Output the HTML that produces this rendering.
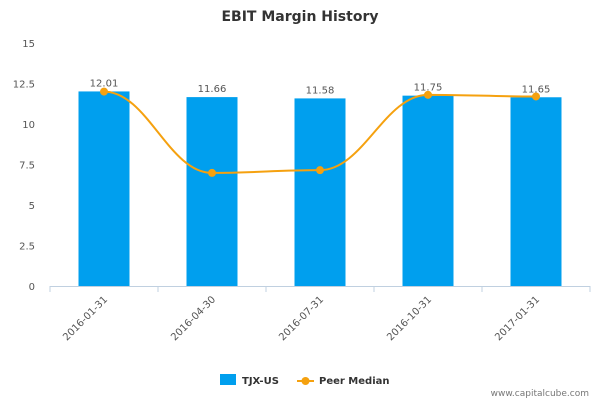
<!DOCTYPE html>
<html><head><meta charset="utf-8"><style>
body{margin:0;background:#fff;}
svg{display:block;font-family:"DejaVu Sans","Liberation Sans",sans-serif;}
</style></head><body>
<svg id="c" width="600" height="400" xmlns="http://www.w3.org/2000/svg">
<text x="300" y="21" text-anchor="middle" font-size="14" font-weight="bold" fill="#333">EBIT Margin History</text>
<g id="yaxis"></g>
<g id="xaxis"></g>
<g id="bars"></g>
<g id="line"></g>
<g>
<g><rect x="220" y="374" width="16" height="11" fill="#009fee"/><text x="242" y="384" font-size="10" font-weight="bold" fill="#333">TJX-US</text></g>
<g><line x1="297" y1="381" x2="314" y2="381" stroke="#f5a10f" stroke-width="2"/><circle cx="305.5" cy="381" r="4" fill="#f5a10f"/><text x="319" y="384" font-size="10" font-weight="bold" fill="#333">Peer Median</text></g>
</g>
<text x="589" y="396" text-anchor="end" font-size="9" fill="#777">www.capitalcube.com</text>
</svg>
<script>
const categories=["2016-01-31","2016-04-30","2016-07-31","2016-10-31","2017-01-31"];
const tjxValues=[12.01,11.66,11.58,11.75,11.65];
const peerValues=[12.0,6.98,7.15,11.8,11.7];
const yTicks=[0,2.5,5,7.5,10,12.5,15];
const yTickLabels=["0","2.5","5","7.5","10","12.5","15"];
const NS="http://www.w3.org/2000/svg";
const L=50,R=590,T=43,B=286,yMax=15;
const bw=(R-L)/categories.length;
const y=v=>B-(v/yMax)*(B-T);
const x=i=>L+bw*(i+0.5);
function mk(tag,attrs,parent,txt){const e=document.createElementNS(NS,tag);for(const k in attrs)e.setAttribute(k,attrs[k]);if(txt!==undefined)e.textContent=txt;parent.appendChild(e);return e;}
const ya=document.getElementById('yaxis');
yTicks.forEach((t,i)=>{const e=mk('text',{x:35,y:y(t)+4,'text-anchor':'end','font-size':'10',fill:'#555'},ya,yTickLabels[i]);

});
const xa=document.getElementById('xaxis');
mk('line',{x1:L,y1:B+0.5,x2:R,y2:B+0.5,stroke:'#c0d0e0'},xa);
for(let i=0;i<=categories.length;i++)mk('line',{x1:L+bw*i,y1:B,x2:L+bw*i,y2:B+6,stroke:'#c0d0e0'},xa);
categories.forEach((c,i)=>{const e=mk('text',{x:x(i)+4,y:B+14,'text-anchor':'end','font-size':'10',fill:'#555',transform:`rotate(-45 ${x(i)+4} ${B+14})`},xa,c);

});
const bg=document.getElementById('bars');
tjxValues.forEach((v,i)=>{const r=mk('rect',{x:x(i)-25.5,y:y(v),width:51,height:B-y(v),fill:'#009fee'},bg);


const t=mk('text',{x:x(i),y:y(v)-5,'text-anchor':'middle','font-size':'10',fill:'#555'},bg,v.toFixed(2));

});
const lg=document.getElementById('line');
let d=`M${x(0)},${y(peerValues[0])}`;
for(let i=1;i<peerValues.length;i++){const x0=x(i-1),x1=x(i),dx=(x1-x0)*0.4;d+=` C${x0+dx},${y(peerValues[i-1])} ${x1-dx},${y(peerValues[i])} ${x1},${y(peerValues[i])}`;}
const p=mk('path',{d:d,fill:'none',stroke:'#f5a10f','stroke-width':2},lg);


peerValues.forEach((v,i)=>{const c=mk('circle',{cx:x(i),cy:y(v),r:4,fill:'#f5a10f'},lg);

});
</script>
</body></html>
